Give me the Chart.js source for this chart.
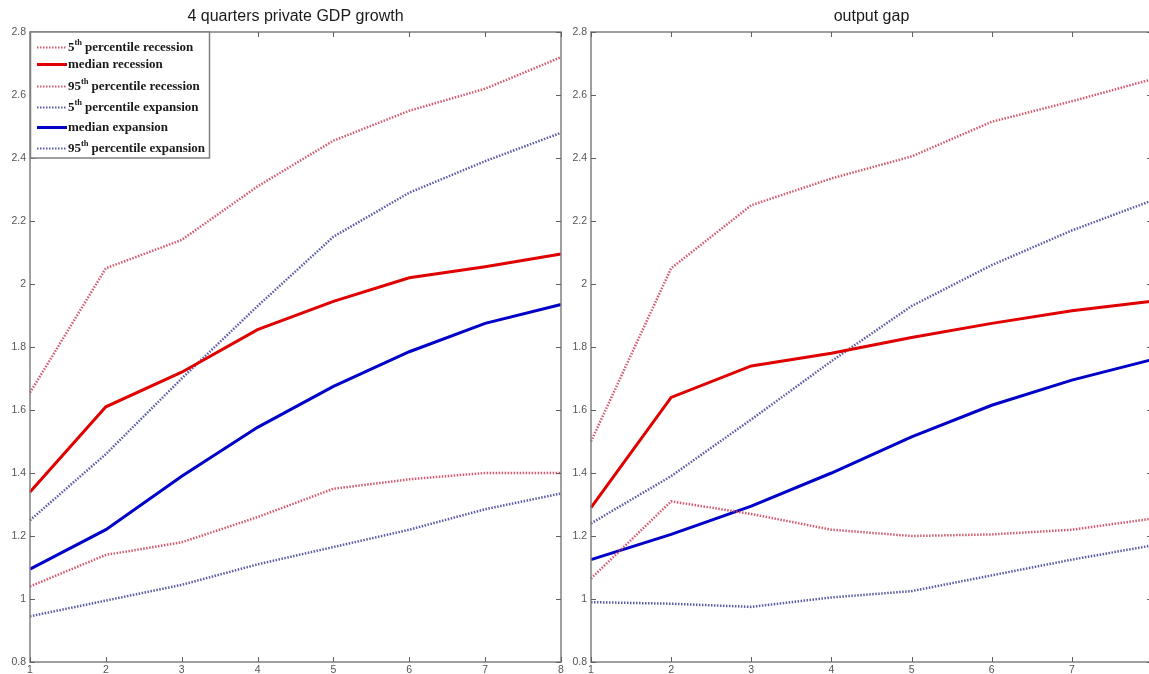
<!DOCTYPE html>
<html>
<head>
<meta charset="utf-8">
<title>Recession vs expansion fan</title>
<script src="https://cdn.jsdelivr.net/npm/chart.js@4.4.1/dist/chart.umd.min.js"></script>
<style>
  html, body { margin: 0; padding: 0; background: #fff; overflow: hidden; }
  #gdp { position: absolute; left: 0; top: 0; }
  #gap { position: absolute; left: 561px; top: 0; }
</style>
</head>
<body>
<canvas id="gdp" width="591" height="674"></canvas>
<canvas id="gap" width="621" height="674"></canvas>
<script>
// horizon in quarters
const quarters = ['1', '2', '3', '4', '5', '6', '7', '8'];
const yTicks = [0.8, 1, 1.2, 1.4, 1.6, 1.8, 2, 2.2, 2.4, 2.6, 2.8];

// 4 quarters private GDP growth
const gdpRec5   = [1.04, 1.14, 1.18, 1.26, 1.35, 1.38, 1.40, 1.40];
const gdpRecMed = [1.34, 1.61, 1.72, 1.855, 1.945, 2.02, 2.055, 2.095];
const gdpRec95  = [1.655, 2.05, 2.14, 2.31, 2.455, 2.55, 2.62, 2.72];
const gdpExp5   = [0.945, 0.995, 1.045, 1.11, 1.165, 1.22, 1.285, 1.335];
const gdpExpMed = [1.095, 1.22, 1.39, 1.545, 1.675, 1.785, 1.875, 1.935];
const gdpExp95  = [1.25, 1.46, 1.70, 1.93, 2.15, 2.29, 2.39, 2.48];

// output gap
const gapRec5   = [1.065, 1.31, 1.27, 1.22, 1.20, 1.205, 1.22, 1.255];
const gapRecMed = [1.29, 1.64, 1.74, 1.78, 1.83, 1.875, 1.915, 1.945];
const gapRec95  = [1.50, 2.05, 2.25, 2.335, 2.405, 2.515, 2.58, 2.65];
const gapExp5   = [0.99, 0.985, 0.975, 1.005, 1.025, 1.075, 1.125, 1.17];
const gapExpMed = [1.125, 1.205, 1.295, 1.40, 1.515, 1.615, 1.695, 1.76];
const gapExp95  = [1.24, 1.39, 1.57, 1.755, 1.93, 2.06, 2.17, 2.265];

const seriesNames = [
  '5th percentile recession',
  'median recession',
  '95th percentile recession',
  '5th percentile expansion',
  'median expansion',
  '95th percentile expansion'
];

const RED = '#e00000';
const BLUE = '#0000c8';
const RED_DOT = 'rgba(205,60,85,0.85)';
const BLUE_DOT = 'rgba(60,60,150,0.85)';

function makeDatasets(rec5, recMed, rec95, exp5, expMed, exp95) {
  const dotted = (label, data, color) => ({
    label, data, borderColor: color, borderWidth: 2.5, borderDash: [1.5, 1.5],
    borderCapStyle: 'butt', pointRadius: 0, tension: 0, fill: false
  });
  const solid = (label, data, color) => ({
    label, data, borderColor: color, borderWidth: 3,
    pointRadius: 0, tension: 0, fill: false
  });
  return [
    dotted(seriesNames[0], rec5, RED_DOT),
    solid(seriesNames[1], recMed, RED),
    dotted(seriesNames[2], rec95, RED_DOT),
    dotted(seriesNames[3], exp5, BLUE_DOT),
    solid(seriesNames[4], expMed, BLUE),
    dotted(seriesNames[5], exp95, BLUE_DOT)
  ];
}

// box around the axes with inward ticks on all four sides
const axesBox = {
  id: 'axesBox',
  afterDatasetsDraw(chart) {
    const { ctx, chartArea: a, scales } = chart;
    ctx.save();
    ctx.strokeStyle = '#808080';
    ctx.lineWidth = 1.5;
    ctx.strokeRect(a.left, a.top, a.right - a.left, a.bottom - a.top);
    ctx.lineWidth = 1;
    ctx.strokeStyle = '#606060';
    ctx.beginPath();
    scales.x.ticks.forEach((t, i) => {
      const px = Math.round(scales.x.getPixelForTick(i)) + 0.5;
      ctx.moveTo(px, a.bottom); ctx.lineTo(px, a.bottom - 5);
      ctx.moveTo(px, a.top); ctx.lineTo(px, a.top + 5);
    });
    scales.y.ticks.forEach(t => {
      const py = Math.round(scales.y.getPixelForValue(t.value)) + 0.5;
      ctx.moveTo(a.left, py); ctx.lineTo(a.left + 5, py);
      ctx.moveTo(a.right, py); ctx.lineTo(a.right - 5, py);
    });
    ctx.stroke();
    ctx.restore();
  }
};

// boxed legend in the upper left corner, with superscript ordinals
const boxLegend = {
  id: 'boxLegend',
  afterDraw(chart) {
    const { ctx, chartArea: a } = chart;
    const rows = [47, 64, 86, 107, 127, 148];
    const x0 = a.left, y0 = a.top, w = 179, h = 126;
    const serif = '"Liberation Serif", "Times New Roman", serif';
    ctx.save();
    ctx.fillStyle = '#fff';
    ctx.fillRect(x0, y0, w, h);
    ctx.strokeStyle = '#808080';
    ctx.lineWidth = 1.5;
    ctx.strokeRect(x0 + 0.5, y0, w, h);
    chart.data.datasets.forEach((ds, i) => {
      const y = rows[i];
      ctx.strokeStyle = ds.borderColor;
      ctx.lineWidth = ds.borderDash ? 2 : 3;
      ctx.setLineDash(ds.borderDash || []);
      ctx.beginPath();
      ctx.moveTo(x0 + 7, y + 0.5);
      ctx.lineTo(x0 + 37, y + 0.5);
      ctx.stroke();
      ctx.setLineDash([]);

      ctx.fillStyle = '#1a1a1a';
      ctx.textBaseline = 'middle';
      let x = x0 + 38;
      const m = ds.label.match(/^(\d+)th (.*)$/);
      ctx.font = 'bold 13px ' + serif;
      if (m) {
        ctx.fillText(m[1], x, y + 1);
        x += ctx.measureText(m[1]).width;
        ctx.font = 'bold 8.5px ' + serif;
        ctx.fillText('th', x, y - 4);
        x += ctx.measureText('th').width + 3;
        ctx.font = 'bold 13px ' + serif;
        ctx.fillText(m[2], x, y + 1);
      } else {
        ctx.fillText(ds.label, x, y + 1);
      }
    });
    ctx.restore();
  }
};

const tickFont = { family: 'Arial, "Liberation Sans", sans-serif', size: 10.5 };

function makeChart(id, title, datasets, extraPlugins) {
  return new Chart(document.getElementById(id), {
    type: 'line',
    data: { labels: quarters, datasets },
    plugins: [axesBox].concat(extraPlugins),
    options: {
      responsive: false,
      animation: false,
      layout: { padding: 0 },
      plugins: {
        legend: { display: false },
        tooltip: { enabled: false },
        title: {
          display: true,
          text: title,
          color: '#1a1a1a',
          font: { family: 'Arial, "Liberation Sans", sans-serif', size: 16, weight: 'normal', lineHeight: 1.2 },
          padding: { top: 7, bottom: 5.8 }
        }
      },
      scales: {
        x: {
          type: 'category',
          offset: false,
          grid: { display: false, drawTicks: false },
          border: { display: false },
          ticks: { color: '#555', padding: 2, maxRotation: 0, autoSkip: false, font: tickFont },
          afterFit(scale) { scale.height = 12; }
        },
        y: {
          min: 0.8,
          max: 2.8,
          grid: { display: false, drawTicks: false },
          border: { display: false },
          afterBuildTicks(scale) { scale.ticks = yTicks.map(v => ({ value: v })); },
          ticks: {
            color: '#555',
            padding: 4,
            font: tickFont,
            callback: v => String(+(+v).toFixed(1))
          },
          afterFit(scale) { scale.width = 30; }
        },
        // empty right-hand margin so the title sits over the plot centre
        yMargin: {
          position: 'right',
          min: 0.8,
          max: 2.8,
          grid: { display: false, drawTicks: false },
          border: { display: false },
          ticks: { display: false },
          afterFit(scale) { scale.width = 30; }
        }
      }
    }
  });
}

makeChart('gdp', '4 quarters private GDP growth',
  makeDatasets(gdpRec5, gdpRecMed, gdpRec95, gdpExp5, gdpExpMed, gdpExp95), [boxLegend]);
makeChart('gap', 'output gap',
  makeDatasets(gapRec5, gapRecMed, gapRec95, gapExp5, gapExpMed, gapExp95), []);
</script>
</body>
</html>
